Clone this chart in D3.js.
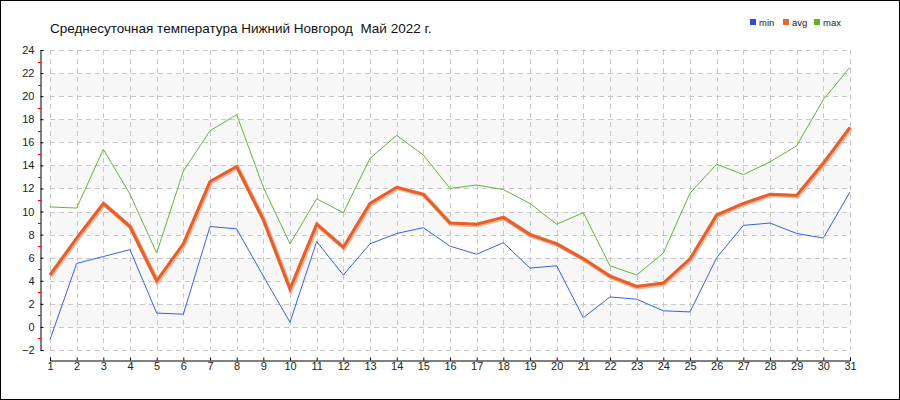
<!DOCTYPE html>
<html>
<head>
<meta charset="utf-8">
<script src="https://cdn.jsdelivr.net/npm/d3@7"></script>
<style>
    body { margin: 0; background: #fff; }
    svg { display: block; font-family: "Liberation Sans", Arial, sans-serif; }
    .grid line { stroke: #c8c8c8; stroke-dasharray: 5,4; shape-rendering: crispEdges; }
    .axis text { fill: #222; font-size: 11px; }
    .title { white-space: pre; }
</style>
</head>
<body>
<div id="chart"></div>
<script>
// Days of the month
const days = d3.range(1, 32);

// Series values
const minTemp = [-1.1, 5.5, 6.1, 6.7, 1.2, 1.1, 8.7, 8.5, 4.4, 0.4, 7.4,
                 4.5, 7.2, 8.1, 8.6, 7.0, 6.3, 7.3, 5.1, 5.3, 0.8,
                 2.6, 2.4, 1.4, 1.3, 6.0, 8.8, 9.0, 8.1, 7.7, 11.7];
const avgTemp = [4.5, 7.7, 10.7, 8.7, 4.0, 7.2, 12.6, 13.9, 9.3, 3.3, 8.9,
                 6.9, 10.7, 12.1, 11.5, 9.0, 8.9, 9.5, 8.0, 7.2, 5.9,
                 4.4, 3.5, 3.8, 5.9, 9.7, 10.7, 11.5, 11.4, 14.2, 17.3];
const maxTemp = [10.4, 10.3, 15.4, 11.5, 6.4, 13.5, 17.0, 18.4, 12.1, 7.2, 11.1,
                 9.9, 14.6, 16.6, 14.9, 12.0, 12.3, 11.9, 10.7, 8.9, 9.9,
                 5.3, 4.5, 6.4, 11.6, 14.1, 13.2, 14.3, 15.7, 19.7, 22.5];

const yTicks = d3.range(-2, 25, 2);
const yMinorTicks = d3.range(-1, 24, 2);
const bands = [[0, 2], [4, 6], [8, 10], [12, 14], [16, 18], [20, 22]];

const title = "Среднесуточная температура Нижний Новгород  Май 2022 г.";
const legendItems = [
    {name: "min", color: "#2a4fe0", data: minTemp},
    {name: "avg", color: "#e9652e", data: avgTemp},
    {name: "max", color: "#5cb22c", data: maxTemp}
];

const width = 900, height = 400;

const svg = d3.select("#chart").append("svg")
    .attr("width", width)
    .attr("height", height);

// Outer frame
svg.append("rect")
    .attr("x", 0.5).attr("y", 0.5)
    .attr("width", width - 1).attr("height", height - 1)
    .attr("fill", "#fff")
    .attr("stroke", "#000");

// Scales
const x = d3.scaleLinear().domain([1, 31]).range([50, 850]);
const y = d3.scaleLinear().domain([-2, 24]).range([350, 50]);

// Alternating bands
svg.append("g").selectAll("rect")
    .data(bands)
    .join("rect")
        .attr("x", x(1))
        .attr("width", x(31) - x(1))
        .attr("y", d => y(d[1]))
        .attr("height", d => y(d[0]) - y(d[1]))
        .attr("fill", "#f7f7f7");

// Grid
const grid = svg.append("g").attr("class", "grid");
grid.selectAll("line.h")
    .data(yTicks)
    .join("line")
        .attr("class", "h")
        .attr("x1", x(1)).attr("x2", x(31))
        .attr("y1", d => Math.round(y(d)) + 0.5)
        .attr("y2", d => Math.round(y(d)) + 0.5);
grid.selectAll("line.v")
    .data(days)
    .join("line")
        .attr("class", "v")
        .attr("x1", d => Math.round(x(d)) + 0.5)
        .attr("x2", d => Math.round(x(d)) + 0.5)
        .attr("y1", y(24)).attr("y2", y(-2));

// Y axis
const yAxis = svg.append("g")
    .attr("class", "axis")
    .attr("transform", "translate(40.5,0)")
    .call(d3.axisLeft(y).tickValues(yTicks).tickSize(-3).tickPadding(6));
yAxis.select(".domain").attr("stroke", "#000");
yAxis.selectAll(".tick line").attr("stroke", "#000");

// Red minor ticks
svg.append("g").selectAll("line")
    .data(yMinorTicks)
    .join("line")
        .attr("x1", 38).attr("x2", 41)
        .attr("y1", d => Math.round(y(d)) + 0.5)
        .attr("y2", d => Math.round(y(d)) + 0.5)
        .attr("stroke", "#e00000");

// X axis
const xAxis = svg.append("g")
    .attr("class", "axis")
    .attr("transform", "translate(0,360.5)")
    .call(d3.axisBottom(x).tickValues(days).tickFormat(d3.format("d")).tickSize(-3).tickPadding(2));
xAxis.select(".domain").attr("stroke", "#000");
xAxis.selectAll(".tick line").attr("stroke", "#000");

// Lines
const line = d3.line()
    .x((d, i) => x(days[i]))
    .y(d => y(d));

svg.append("path")
    .attr("d", line(minTemp))
    .attr("fill", "none")
    .attr("stroke", "#3a5fe6")
    .attr("stroke-width", 1);

svg.append("path")
    .attr("d", line(maxTemp))
    .attr("fill", "none")
    .attr("stroke", "#62b637")
    .attr("stroke-width", 1);

// avg: thick with a soft halo
svg.append("path")
    .attr("d", line(avgTemp))
    .attr("fill", "none")
    .attr("stroke", "#f2b49a")
    .attr("stroke-width", 4.5)
    .attr("transform", "translate(0.8,0.8)");
svg.append("path")
    .attr("d", line(avgTemp))
    .attr("fill", "none")
    .attr("stroke", "#e45f29")
    .attr("stroke-width", 3);

// Title
svg.append("text")
    .attr("class", "title")
    .attr("x", 50).attr("y", 33)
    .attr("font-size", "13.5px")
    .attr("fill", "#111")
    .text(title);

// Legend
const legend = svg.append("g")
    .attr("transform", "translate(750,18)");
const legendX = [0, 33, 64];
legend.selectAll("g")
    .data(legendItems)
    .join("g")
        .attr("transform", (d, i) => "translate(" + legendX[i] + ",0)")
        .each(function(d) {
            let g = d3.select(this);
            g.append("rect")
                .attr("width", 6).attr("height", 6)
                .attr("y", 1)
                .attr("fill", d.color);
            g.append("text")
                .attr("x", 9).attr("y", 7.5)
                .attr("font-size", "9.5px")
                .attr("fill", "#222")
                .text(d.name);
        });
</script>
</body>
</html>
